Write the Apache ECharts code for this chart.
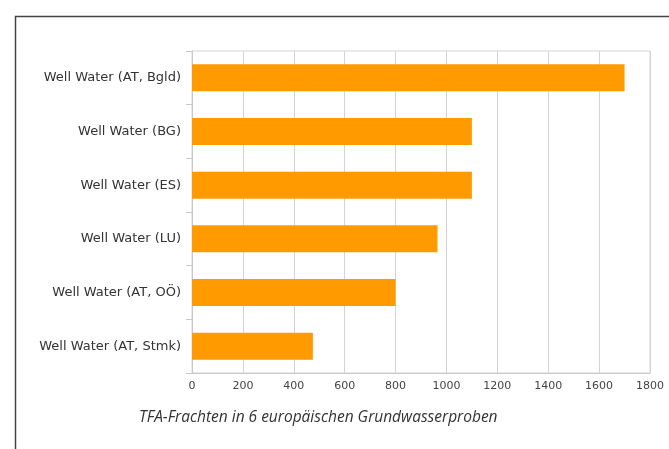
<!DOCTYPE html>
<html>
<head>
<meta charset="utf-8">
<script src="https://cdn.jsdelivr.net/npm/echarts@6/dist/echarts.min.js"></script>
<style>html,body{margin:0;padding:0;background:#fff;}#c{width:669px;height:449px;}</style>
</head>
<body>
<div id="c"></div>
<script>
const categories = ["Well Water (AT, Bgld)", "Well Water (BG)", "Well Water (ES)", "Well Water (LU)", "Well Water (AT, OÖ)", "Well Water (AT, Stmk)"];
const values = [1700, 1100, 1100, 965, 800, 475];
const xTicks = [0, 200, 400, 600, 800, 1000, 1200, 1400, 1600, 1800];
const captionText = "TFA-Frachten in 6 europäischen Grundwasserproben";

const chart = echarts.init(document.getElementById('c'), null, {renderer: 'canvas'});
chart.setOption({
  backgroundColor: '#fff',
  animation: false,
  grid: {left: 192, right: 19, top: 51, bottom: 76, show: true, borderColor: '#d4d4d4', borderWidth: 1, containLabel: false},
  xAxis: {
    type: 'value', min: xTicks[0], max: xTicks[xTicks.length - 1], interval: xTicks[1] - xTicks[0],
    axisLine: {show: true, lineStyle: {color: '#c8c8c8'}},
    axisTick: {show: false},
    splitLine: {show: true, lineStyle: {color: '#d4d4d4'}},
    axisLabel: {color: '#444', fontFamily: 'DejaVu Sans', fontSize: 11, margin: 8, formatter: v => String(v)}
  },
  yAxis: {
    type: 'category', data: categories, inverse: true,
    axisLine: {show: true, lineStyle: {color: '#c8c8c8'}},
    axisTick: {show: true, length: 6, lineStyle: {color: '#c8c8c8'}},
    axisLabel: {color: '#333', fontFamily: 'DejaVu Sans', fontSize: 13, margin: 11}
  },
  series: [{
    type: 'bar', data: values, barWidth: 27,
    itemStyle: {color: '#ff9a00'}
  }],
  graphic: [
    {type: 'rect', shape: {x: 15.5, y: 16.5, width: 700, height: 500}, style: {fill: 'none', stroke: '#444', lineWidth: 1.5}, silent: true},
    {type: 'text', left: 139, top: 410, style: {text: captionText, fill: '#333', font: 'italic 15.5px "Open Sans"'}}
  ]
});
</script>
</body>
</html>
